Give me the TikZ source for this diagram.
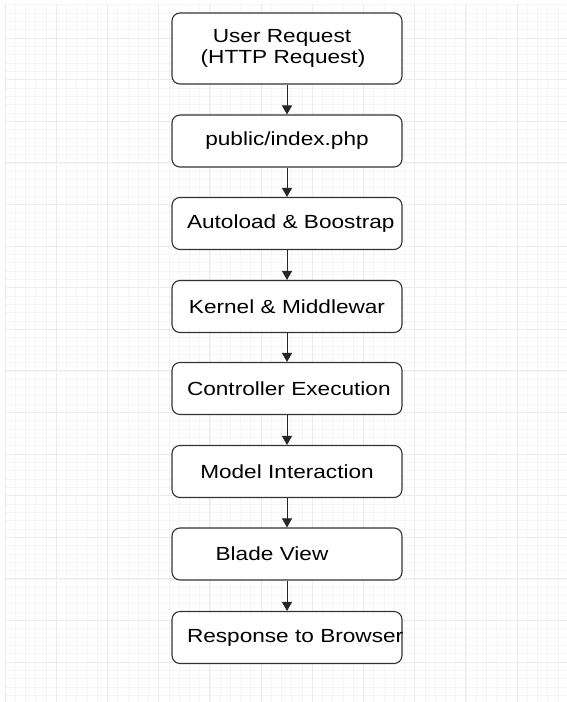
\documentclass[tikz,border=0pt]{standalone}
\usepackage{fontspec}
\setmainfont[FakeStretch=1.19]{Liberation Sans}
\usetikzlibrary{arrows.meta}

\tikzset{
    gridminor/.style={draw=black!4, line width=0.6pt},
    gridmajor/.style={draw=black!8, line width=0.8pt},
    stepbox/.style={draw=black!80, line width=1.1pt, rounded corners=8pt, fill=white,
        minimum height=52pt, text width=200pt, inner xsep=15pt, inner ysep=0pt,
        align=center, font=\fontsize{19}{21}\selectfont},
    flow/.style={draw=black!85, line width=0.9pt, -{Triangle[width=10pt,length=9pt]}}
}

\begin{document}
\begin{tikzpicture}[x=1pt, y=-1pt]
            \useasboundingbox (0,0) rectangle (567,702);
            \clip (0,0) rectangle (567,702);
            \fill[white] (0,0) rectangle (567,702);

            \foreach \i in {0,...,55} {
                \draw[gridminor] ({5 + 10.24 * \i}, 4) -- ({5 + 10.24 * \i}, 702);
            }
            \foreach \j in {-4,...,79} {
                \draw[gridminor] (5, {38 + 8.32 * \j}) -- (567, {38 + 8.32 * \j});
            }
            \foreach \i in {0,...,11} {
                \draw[gridmajor] ({5 + 51.2 * \i}, 4) -- ({5 + 51.2 * \i}, 702);
            }
            \foreach \j in {0,...,16} {
                \draw[gridmajor] (5, {38 + 41.6 * \j}) -- (567, {38 + 41.6 * \j});
            }

            \node[stepbox, minimum height=71pt] (b1) at (287, 48.5) {\hspace*{-10pt}User Request\\\hspace*{-8pt}(HTTP Request)};
            \foreach \n/\y/\txt in {2/141/{public/index.php},
                                    3/223.5/{Autoload \& Boostrap},
                                    4/306.5/{Kernel \& Middlewar},
                                    5/388.5/{Controller Execution},
                                    6/471.5/{Model Interaction},
                                    7/554/{\hspace*{-30pt}Blade View},
                                    8/637.5/{Response to Browser}} {
                \node[stepbox] (b\n) at (287, \y) {\mbox{\txt}};
            }

            \foreach \a/\b in {1/2, 2/3, 3/4, 4/5, 5/6, 6/7, 7/8} {
                \draw[flow] (b\a) -- (b\b);
            }
        \end{tikzpicture}
\end{document}
